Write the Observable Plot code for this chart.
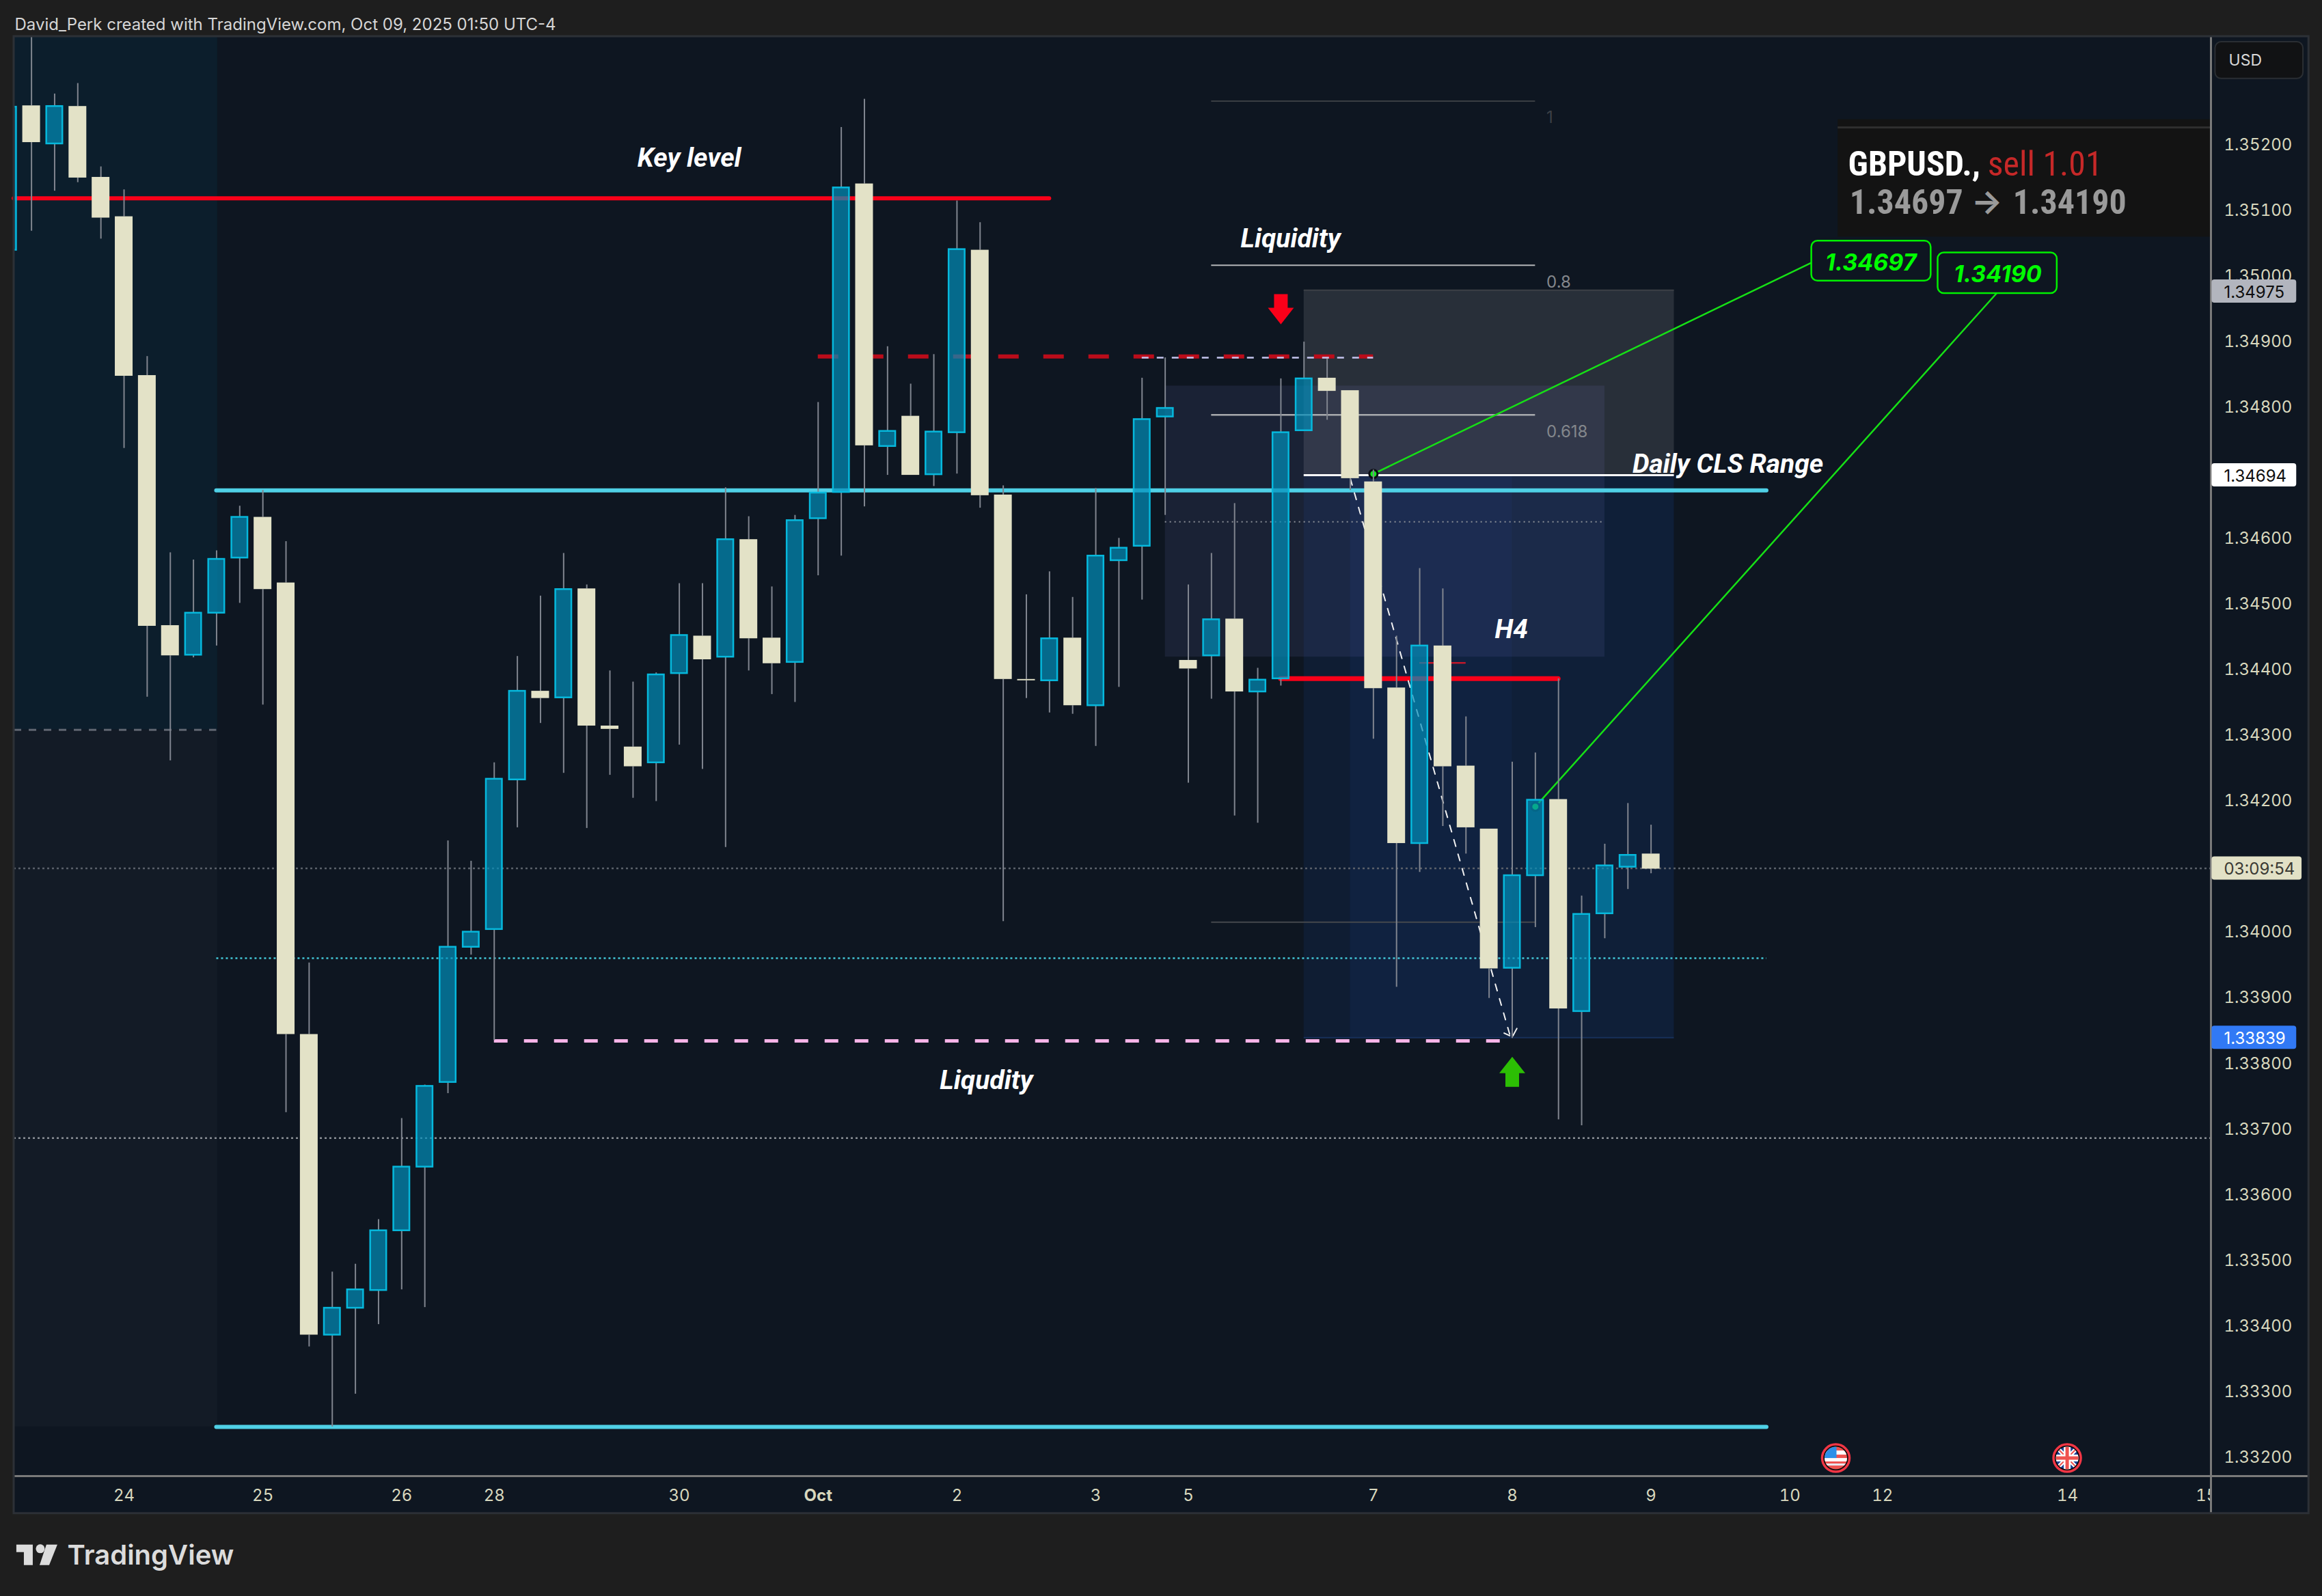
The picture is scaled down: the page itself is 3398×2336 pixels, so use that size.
<!DOCTYPE html>
<html><head><meta charset="utf-8">
<script src="https://cdn.jsdelivr.net/npm/d3@7"></script>
<script src="https://cdn.jsdelivr.net/npm/@observablehq/plot@0.6"></script>
<style>html,body{margin:0;padding:0;background:#1e1e1e}svg{display:block}</style>
</head><body><div id="chart"></div>
<script>
const firstBar = -1;
const opens = [1.35038,1.35258,1.35200,1.35257,1.35149,1.35089,1.34847,1.34466,1.34421,1.34485,1.34569,1.34631,1.34531,1.33843,1.33385,1.33426,1.33453,1.33544,1.33641,1.33770,1.33976,1.34003,1.34231,1.34366,1.34356,1.34522,1.34313,1.34281,1.34257,1.34393,1.34450,1.34418,1.34597,1.34447,1.34410,1.34629,1.34669,1.35139,1.34739,1.34785,1.34696,1.34760,1.35038,1.34665,1.34384,1.34382,1.34447,1.34344,1.34565,1.34587,1.34784,1.34413,1.34420,1.34476,1.34365,1.34385,1.34763,1.34843,1.34824,1.34685,1.34371,1.34134,1.34435,1.34252,1.34156,1.33944,1.34085,1.34201,1.33878,1.34027,1.34098,1.34118];
const closes = [1.35256,1.35202,1.35257,1.35148,1.35087,1.34846,1.34465,1.34420,1.34485,1.34567,1.34631,1.34521,1.33843,1.33385,1.33426,1.33454,1.33544,1.33641,1.33764,1.33976,1.33999,1.34232,1.34366,1.34355,1.34521,1.34313,1.34308,1.34251,1.34391,1.34451,1.34414,1.34597,1.34446,1.34408,1.34626,1.34668,1.35133,1.34740,1.34762,1.34695,1.34761,1.35039,1.34664,1.34384,1.34382,1.34446,1.34344,1.34572,1.34584,1.34780,1.34797,1.34400,1.34475,1.34365,1.34383,1.34760,1.34842,1.34823,1.34690,1.34370,1.34134,1.34435,1.34251,1.34158,1.33943,1.34085,1.34200,1.33882,1.34026,1.34100,1.34116,1.34095];
const highs = [1.35256,1.35377,1.35276,1.35292,1.35165,1.35130,1.34876,1.34577,1.34566,1.34580,1.34648,1.34672,1.34594,1.33952,1.33481,1.33493,1.33561,1.33715,1.33766,1.34138,1.34107,1.34257,1.34419,1.34511,1.34576,1.34528,1.34397,1.34380,1.34394,1.34530,1.34530,1.34676,1.34632,1.34525,1.34634,1.34806,1.35225,1.35268,1.34891,1.34834,1.34879,1.35113,1.35080,1.34679,1.34513,1.34548,1.34509,1.34675,1.34599,1.34843,1.34874,1.34528,1.34576,1.34652,1.34401,1.34842,1.34898,1.34872,1.34824,1.34703,1.34450,1.34553,1.34522,1.34327,1.34156,1.34258,1.34272,1.34385,1.34054,1.34133,1.34195,1.34162];
const lows = [1.35038,1.35067,1.35128,1.35141,1.35055,1.34736,1.34357,1.34260,1.34417,1.34435,1.34500,1.34345,1.33724,1.33367,1.33245,1.33295,1.33401,1.33454,1.33427,1.33753,1.33964,1.33834,1.34158,1.34317,1.34241,1.34157,1.34238,1.34203,1.34198,1.34284,1.34247,1.34128,1.34397,1.34361,1.34349,1.34542,1.34572,1.34647,1.34695,1.34695,1.34678,1.34697,1.34645,1.34015,1.34355,1.34333,1.34331,1.34282,1.34372,1.34505,1.34634,1.34226,1.34354,1.34176,1.34165,1.34374,1.34762,1.34779,1.34672,1.34293,1.33915,1.34090,1.34160,1.34118,1.33898,1.33837,1.34006,1.33713,1.33704,1.33989,1.34064,1.34088];

const priceTicks = [1.352,1.351,1.350,1.349,1.348,1.346,1.345,1.344,1.343,1.342,1.340,1.339,1.338,1.337,1.336,1.335,1.334,1.333,1.332];
const dayTicks = [4,10,16,20,28,40,46,50,58,64,70,76,80,88,94];
const dayLabels = ["24","25","26","28","30","2","3","5","7","8","9","10","12","14","15"];
const monthTicks = [34];
const monthLabels = ["Oct"];

const keyLevel = 1.35117, dailyHigh = 1.34672, dailyLow = 1.33245, h4Level = 1.34385, h4Small = 1.34409;
const redDash = 1.34876, lavDash = 1.34874, pinkDash = 1.33833, entry = 1.34695, target = 1.34190;
const fibLevels = [1.35265, 1.35015, 1.34787, 1.34014];
const fibLabels = ["1", "0.8", "0.618"];
const fibLabelPrices = [1.35240, 1.34989, 1.34761];
const greyDots = [1.34096, 1.33685];
const cyanDot = 1.33959, fibDot = 1.34624, leftDash = 1.34307;

const tagPrices = [1.34975, 1.34695, 1.34096, 1.33838];
const tagTexts = ["1.34975", "1.34694", "03:09:54", "1.33839"];
const tagFills = ["#b2b5be", "#ffffff", "#e2e1c6", "#3179f5"];
const tagInk = ["#0e0e0e", "#0e0e0e", "#3a3a34", "#ffffff"];

const xMin = -0.756, xMax = 94.2, paneRight = 98.43;
const yMin = 1.33170, yMax = 1.353634, paneBottom = 1.33113;
const F = "Inter, 'Noto Sans', sans-serif";
const NARROW = "'Liberation Sans Narrow', 'Roboto Condensed', Roboto";
const BG = "#0e1621", CREAM = "#e3e2c7", TEAL = "#028eba", TEALS = "#06b8dc", RED = "#fa0019", CYAN = "#4fd0e6", GREEN = "#16e016", TICK = "#d8d8be", ZONE = "#2060d8";

const candles = opens.map((o, k) => ({
  i: firstBar + k, open: o, close: closes[k], high: highs[k], low: lows[k],
  top: Math.max(o, closes[k]), bottom: Math.min(o, closes[k]), bull: closes[k] > o
}));
const bulls = candles.filter(d => d.bull), bears = candles.filter(d => !d.bull);

const rect = (x1, x2, y1, y2, o) => Plot.rect([{}], {x1, x2, y1, y2, ...o});
const level = (y, x1, x2, o) => Plot.ruleY([y], {x1, x2, ...o});
const label = (s, x, y, o) => Plot.text([s], {x, y, text: d => d, fontFamily: F, ...o});
const seg = (pts, o) => Plot.line(pts, {x: d => d[0], y: d => d[1], ...o});
const note = (s, x, y) => label(s, x, y, {fill: "#fff", fontSize: 39, fontWeight: 700, fontStyle: "italic", fontFamily: "Roboto, Inter", textAnchor: "middle"});

function flag(ix, price, kind) {
  return (index, {x, y}) => {
    const g = d3.create("svg:g").attr("transform", `translate(${x(ix)},${y(price)})`);
    const id = "clip" + kind;
    g.append("clipPath").attr("id", id).append("circle").attr("r", 16.5);
    g.append("circle").attr("r", 20).attr("fill", "#0b0b0b").attr("stroke", "#f23645").attr("stroke-width", 3.5);
    const f = g.append("g").attr("clip-path", `url(#${id})`);
    const r = (a, b, c, d, col) => f.append("rect").attr("x", a).attr("y", b).attr("width", c).attr("height", d).attr("fill", col);
    if (kind === "us") {
      r(-17, -17, 34, 34, "#ef5350");
      r(-17, -11, 34, 6, "#fff"); r(-17, 0, 34, 5, "#ffffff"); r(-17, 8, 34, 3, "#e8e8f0");
      r(-17, -17, 18, 17, "#2d8fe8");
    } else {
      r(-17, -17, 34, 34, "#1c3f94");
      f.append("path").attr("d", "M-17-17L17 17M17-17L-17 17").attr("stroke", "#fff").attr("stroke-width", 6);
      f.append("path").attr("d", "M-17-17L17 17M17-17L-17 17").attr("stroke", "#ef5350").attr("stroke-width", 2);
      r(-17, -5, 34, 10, "#fff"); r(-5, -17, 10, 34, "#fff");
      r(-17, -2.5, 34, 5, "#ef5350"); r(-2.5, -17, 5, 34, "#ef5350");
    }
    return g.node();
  };
}
function logo(ix, price) {
  return (index, {x, y}) => {
    const g = d3.create("svg:g").attr("transform", `translate(${x(ix)},${y(price)})`).attr("fill", "#dcdcdc");
    g.append("path").attr("d", "M0 0H24V30H11V11H0Z");
    g.append("circle").attr("cx", 35).attr("cy", 6).attr("r", 6.5);
    g.append("path").attr("d", "M44 0H60L48 30H34Z");
    return g.node();
  };
}

const chart = Plot.plot({
  width: 3398, height: 2336,
  marginTop: 53, marginLeft: 20, marginRight: 163, marginBottom: 176,
  style: {background: "transparent"},
  x: {type: "linear", domain: [xMin, xMax], axis: null},
  y: {type: "linear", domain: [yMin, yMax], axis: null},
  marks: [
    rect(xMin, paneRight, paneBottom, yMax, {fill: BG}),
    // shaded zones
    rect(xMin, 8.04, leftDash, yMax, {fill: "#0c1e2c"}),
    rect(xMin, 8.04, dailyLow, leftDash, {fill: "#131b26"}),
    rect(55, 71, 1.33838, entry, {fill: ZONE, fillOpacity: 0.1}),
    rect(57, 71, 1.33838, entry, {fill: ZONE, fillOpacity: 0.03}),
    rect(57, 64, 1.33838, entry, {fill: ZONE, fillOpacity: 0.05}),
    rect(55, 71, entry, 1.34977, {fill: "#fff", fillOpacity: 0.11}),
    rect(49, 68, 1.34418, 1.34831, {fill: "#9696ff", fillOpacity: 0.09}),
    level(1.34977, 55, 71, {stroke: "#3c4046", strokeWidth: 2}),
    level(1.33838, 55, 71, {stroke: "#17305a", strokeWidth: 2}),
    // dotted price lines
    level(greyDots[0], xMin, xMax, {stroke: "#5a606a", strokeWidth: 2.5, strokeDasharray: "3 4"}),
    level(greyDots[1], xMin, xMax, {stroke: "#8a8f96", strokeWidth: 2.5, strokeDasharray: "3 4"}),
    level(cyanDot, 8, 75, {stroke: "#43c8d8", strokeWidth: 2.5, strokeDasharray: "3 4"}),
    level(fibDot, 49, 68, {stroke: "#8a8f96", strokeWidth: 2, strokeDasharray: "2 5"}),
    level(leftDash, xMin, 8, {stroke: "#5f6570", strokeWidth: 3, strokeDasharray: "11 11"}),
    // fib levels
    level(fibLevels[0], 51, 65, {stroke: "#3a3e43", strokeWidth: 2}),
    level(fibLevels[1], 51, 65, {stroke: "#b4b6b8", strokeWidth: 2}),
    level(fibLevels[2], 51, 65, {stroke: "#a8aaae", strokeWidth: 2.5}),
    level(fibLevels[3], 51, 65, {stroke: "#44484d", strokeWidth: 2}),
    label(fibLabels[0], 65.48, fibLabelPrices[0], {fill: "#3c4046", fontSize: 24, textAnchor: "start"}),
    label(fibLabels[1], 65.48, fibLabelPrices[1], {fill: "#83878c", fontSize: 24, textAnchor: "start"}),
    label(fibLabels[2], 65.48, fibLabelPrices[2], {fill: "#83878c", fontSize: 24, textAnchor: "start"}),
    // drawn levels
    level(keyLevel, xMin, 44, {stroke: RED, strokeWidth: 6, strokeLinecap: "round"}),
    level(redDash, 34, 58, {stroke: "#bb0c1a", strokeWidth: 6, strokeDasharray: "30 36"}),
    level(lavDash, 48, 58, {stroke: "#c5c5ee", strokeWidth: 2.5, strokeDasharray: "10 12"}),
    level(dailyHigh, 8, 75, {stroke: CYAN, strokeWidth: 6, strokeLinecap: "round"}),
    level(dailyLow, 8, 75, {stroke: CYAN, strokeWidth: 6, strokeLinecap: "round"}),
    level(h4Level, 54, 66, {stroke: RED, strokeWidth: 7, strokeLinecap: "round"}),
    level(h4Small, 60, 62, {stroke: "#c0182a", strokeWidth: 2.5}),
    level(pinkDash, 20, 63.6, {stroke: "#f8b4e8", strokeWidth: 5, strokeDasharray: "20 24"}),
    level(entry, 55, 71, {stroke: "#ffffff", strokeWidth: 3}),
    // dashed path and arrow head
    seg([[57, 1.34690], [63.9, 1.33842]], {stroke: "#f2f2f2", strokeWidth: 2, strokeDasharray: "10 12"}),
    seg([[63.65, 1.33845], [63.89, 1.33841]], {stroke: "#f2f2f2", strokeWidth: 2}),
    seg([[64.03, 1.33841], [64.2, 1.33852]], {stroke: "#f2f2f2", strokeWidth: 2}),
    // green connector lines
    seg([[58, 1.34697], [76.94, 1.35019]], {stroke: GREEN, strokeWidth: 2.5}),
    seg([[65, 1.34190], [84.93, 1.34972]], {stroke: GREEN, strokeWidth: 2.5}),
    Plot.dot([[58, 1.34697], [65, 1.34190]], {x: d => d[0], y: d => d[1], r: 6, fill: "#12e81e", stroke: "#0a0d12", strokeWidth: 3}),
    // candles
    Plot.ruleX(candles, {x: "i", y1: "top", y2: "high", stroke: "#80858f", strokeWidth: 2, clip: true}),
    Plot.ruleX(candles, {x: "i", y1: "low", y2: "bottom", stroke: "#80858f", strokeWidth: 2, clip: true}),
    Plot.rect(bears, {x1: d => d.i - 0.384, x2: d => d.i + 0.384, y1: "open", y2: "close", fill: CREAM, clip: true}),
    Plot.rect(bulls, {x1: d => d.i - 0.347, x2: d => d.i + 0.347, y1: "open", y2: "close", fill: TEAL, fillOpacity: 0.7, stroke: TEALS, strokeWidth: 2.5, clip: true}),
    // arrows
    seg([[53.44, 1.34950], [53.705, 1.34950], [53.705, 1.34971], [54.295, 1.34971], [54.295, 1.34950], [54.56, 1.34950], [54, 1.34925], [53.44, 1.34950]], {fill: "#fa0019", stroke: "none"}),
    seg([[63.44, 1.33784], [63.705, 1.33784], [63.705, 1.33763], [64.295, 1.33763], [64.295, 1.33784], [64.56, 1.33784], [64, 1.33809], [63.44, 1.33784]], {fill: "#2cbe04", stroke: "none"}),
    // notes
    note("Key level", 28.43, 1.35178),
    note("Liquidity", 54.42, 1.35055),
    note("Daily CLS Range", 73.32, 1.34712),
    note("H4", 63.96, 1.34460),
    note("Liqudity", 41.27, 1.33773),
    // price boxes
    rect(76.94, 82.1, 1.34991, 1.35052, {fill: BG, stroke: "#00f000", strokeWidth: 2.5, rx: 9}),
    rect(82.4, 87.55, 1.34972, 1.35034, {fill: BG, stroke: "#00f000", strokeWidth: 2.5, rx: 9}),
    label("1.34697", 79.5, 1.35018, {fill: "#00ff00", fontSize: 34, fontWeight: 700, fontStyle: "italic", textAnchor: "middle"}),
    label("1.34190", 84.98, 1.35000, {fill: "#00ff00", fontSize: 34, fontWeight: 700, fontStyle: "italic", textAnchor: "middle"}),
    // trade card
    rect(78.08, xMax, 1.35058, 1.35237, {fill: "#131313"}),
    level(1.35225, 78.08, xMax, {stroke: "#2e2e2e", strokeWidth: 3}),
    label("GBPUSD.,", 78.52, 1.35168, {fill: "#fff", fontSize: 50, fontWeight: 700, fontFamily: NARROW, textAnchor: "start"}),
    label("sell 1.01", 84.55, 1.35168, {fill: "#c62828", fontSize: 50, fontFamily: NARROW, textAnchor: "start"}),
    label("1.34697", 78.58, 1.35110, {fill: "#9a9a9a", fontSize: 50, fontWeight: 700, fontFamily: NARROW, textAnchor: "start"}),
    label("→", 84.52, 1.35110, {fill: "#9a9a9a", fontSize: 48, fontWeight: 700, textAnchor: "middle"}),
    label("1.34190", 85.64, 1.35110, {fill: "#9a9a9a", fontSize: 50, fontWeight: 700, fontFamily: NARROW, textAnchor: "start"}),
    // time axis
    Plot.axisX(dayTicks, {anchor: "bottom", tickSize: 0, tickPadding: 18, dy: 1, tickFormat: d => dayLabels[dayTicks.indexOf(d)], fontSize: 24, fontFamily: F, fill: TICK, label: null}),
    Plot.axisX(monthTicks, {anchor: "bottom", tickSize: 0, tickPadding: 18, dy: 1, tickFormat: d => monthLabels[monthTicks.indexOf(d)], fontSize: 24, fontWeight: 700, fontFamily: F, fill: TICK, label: null}),
    // price pane
    rect(xMax, paneRight, paneBottom, yMax, {fill: BG}),
    level(yMin, xMin, paneRight, {stroke: "#7a7a7a", strokeWidth: 3}),
    Plot.ruleX([xMax], {y1: paneBottom, y2: yMax, stroke: "#7a7a7a", strokeWidth: 3}),
    rect(xMin, paneRight, paneBottom, yMax, {fill: "none", stroke: "#2c3036", strokeWidth: 3}),
    Plot.axisY(priceTicks, {anchor: "right", tickSize: 0, tickPadding: 19, dy: 1.5, tickFormat: d3.format(".5f"), fontSize: 24, fontFamily: F, fill: TICK, label: null}),
    rect(94.39, 98.19, 1.35299, 1.35355, {fill: "#111214", stroke: "#2a2e33", strokeWidth: 2, rx: 9}),
    label("USD", 94.97, 1.35327, {fill: "#d8d8d8", fontSize: 23, textAnchor: "start"}),
    ...tagPrices.map((p, k) => rect(94.24, tagTexts[k].includes(":") ? 98.13 : 97.9, p - 0.000177, p + 0.000177, {fill: tagFills[k], rx: 4})),
    ...tagPrices.map((p, k) => label(tagTexts[k], 94.76, p, {fill: tagInk[k], fontSize: 24, dy: 1.5, textAnchor: "start"})),
    // events
    flag(78, 1.33197, "us"),
    flag(88, 1.33197, "uk"),
    // page text
    label("David_Perk created with TradingView.com, Oct 09, 2025 01:50 UTC-4", -0.727, 1.35381, {fill: "#d6d6d6", fontSize: 24, textAnchor: "start"}),
    logo(-0.64, 1.33065),
    label("TradingView", 1.55, 1.33049, {fill: "#dcdcdc", fontSize: 40, fontWeight: 600, textAnchor: "start"})
  ]
});
document.getElementById("chart").append(chart);
</script>
</body></html>
